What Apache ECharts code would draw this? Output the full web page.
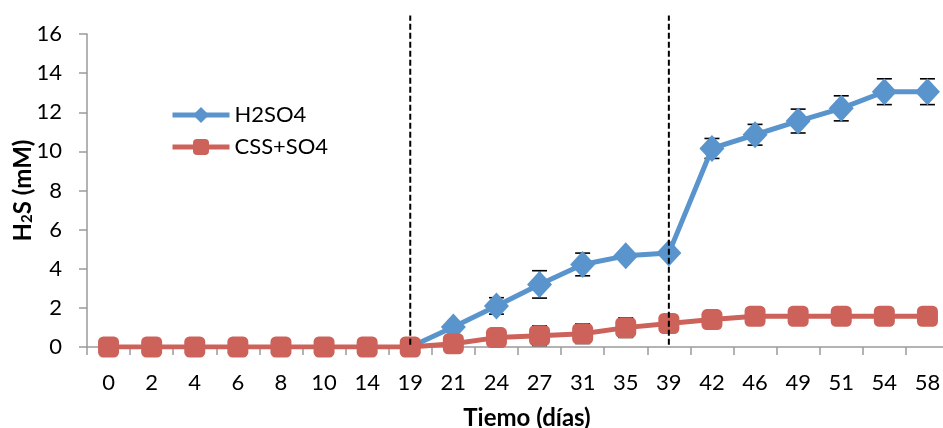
<!DOCTYPE html>
<html>
<head>
<meta charset="utf-8">
<script src="https://cdn.jsdelivr.net/npm/echarts@6/dist/echarts.min.js"></script>
<style>
  html, body { margin: 0; padding: 0; background: #fff; }
  #chart { width: 943px; height: 428px; }
</style>
</head>
<body>
<div id="chart"></div>
<script>
// Sampling days (category axis)
const days = ['0', '2', '4', '6', '8', '10', '14', '19', '21', '24', '27', '31', '35', '39', '42', '46', '49', '51', '54', '58'];

// H2S concentration (mM); '-' = not measured
const h2so4 = ['-', '-', '-', '-', '-', '-', '-', 0, 1.02, 2.1, 3.2, 4.22, 4.66, 4.8, 10.15, 10.85, 11.55, 12.2, 13.05, 13.05];
const cssSo4 = [0, 0, 0, 0, 0, 0, 0, 0, 0.17, 0.48, 0.58, 0.68, 0.99, 1.2, 1.4, 1.57, 1.57, 1.57, 1.57, 1.57];

// Standard deviations (mM)
const h2so4Err = [0, 0, 0, 0, 0, 0, 0, 0, 0, 0.42, 0.7, 0.58, 0.2, 0.2, 0.51, 0.53, 0.61, 0.64, 0.66, 0.66];
const cssSo4Err = [0, 0, 0, 0, 0, 0, 0, 0, 0.1, 0.2, 0.5, 0.5, 0.5, 0.3, 0.2, 0.2, 0.2, 0.2, 0.2, 0.2];

// Phase boundaries (days) and the vertical span of the divider lines (mM)
const phaseDays = ['19', '39'];
const phaseSpan = [0.12, 16.95];

const yTicks = { min: 0, max: 16, interval: 2 };

const BLUE = '#5A94CD';
const RED = '#CD625A';
const FONT = 'Lato, "Open Sans", sans-serif';

function errData(values, errs) {
  const out = [];
  values.forEach((v, i) => {
    if (v === '-' || !errs[i]) return;
    out.push([i, v - errs[i], v + errs[i]]);
  });
  return out;
}

function renderErr(params, api) {
  const lo = api.coord([api.value(0), api.value(1)]);
  const hi = api.coord([api.value(0), api.value(2)]);
  const cap = 7.5;
  const style = { stroke: '#000', lineWidth: 1.6 };
  return {
    type: 'group',
    children: [
      { type: 'line', shape: { x1: lo[0], y1: lo[1], x2: hi[0], y2: hi[1] }, style },
      { type: 'line', shape: { x1: lo[0] - cap, y1: lo[1], x2: lo[0] + cap, y2: lo[1] }, style },
      { type: 'line', shape: { x1: hi[0] - cap, y1: hi[1], x2: hi[0] + cap, y2: hi[1] }, style }
    ]
  };
}

// Dashed vertical dividers between experimental phases
function renderPhase(params, api) {
  const a = api.coord([api.value(0), api.value(1)]);
  const b = api.coord([api.value(0), api.value(2)]);
  return {
    type: 'line',
    shape: { x1: a[0], y1: a[1], x2: b[0], y2: b[1] },
    style: { stroke: '#000', lineWidth: 2, lineDash: [6, 3] }
  };
}

const blueData = h2so4.map((v, i) => (i === 7 ? { value: v, symbol: 'none' } : v));

const chart = echarts.init(document.getElementById('chart'));
chart.setOption({
  animation: false,
  backgroundColor: '#fff',
  textStyle: { fontFamily: FONT },
  grid: { left: 87, top: 34, width: 862, height: 313, containLabel: false, outerBoundsMode: 'none' },
  legend: {
    orient: 'vertical',
    left: 165,
    top: 99,
    itemWidth: 57,
    itemHeight: 20,
    itemGap: 10,
    lineStyle: { width: 5 },
    textStyle: { fontSize: 22, color: '#000', fontFamily: FONT },
    data: ['H2SO4', 'CSS+SO4']
  },
  xAxis: {
    type: 'category',
    data: days,
    name: 'Tiemo (días)',
    nameLocation: 'middle',
    nameGap: 59,
    nameMoveOverlap: false,
    nameTextStyle: { fontSize: 24, fontWeight: 'bold', color: '#000', fontFamily: FONT, padding: [0, 0, 0, 18] },
    axisLine: { lineStyle: { color: '#9A9A9A', width: 1.5 } },
    axisTick: { show: true, length: 8, lineStyle: { color: '#9A9A9A', width: 1.5 } },
    axisLabel: { fontSize: 22, color: '#000', margin: 25, interval: 0, fontFamily: FONT },
    splitLine: { show: false }
  },
  yAxis: {
    type: 'value',
    min: yTicks.min,
    max: yTicks.max,
    interval: yTicks.interval,
    name: '{b|H}{s|2}{b|S (mM)}',
    nameLocation: 'middle',
    nameGap: 52,
    nameRotate: 90,
    nameMoveOverlap: false,
    nameTextStyle: {
      rich: {
        b: { fontSize: 24, fontWeight: 'bold', color: '#000', fontFamily: FONT, verticalAlign: 'top', lineHeight: 24, padding: [0, 0, 8, 0] },
        s: { fontSize: 15, fontWeight: 'bold', color: '#000', fontFamily: FONT, verticalAlign: 'bottom', lineHeight: 15 }
      }
    },
    axisLine: { show: true, lineStyle: { color: '#9A9A9A', width: 1.5 } },
    axisTick: { show: true, length: 8, lineStyle: { color: '#9A9A9A', width: 1.5 } },
    axisLabel: { fontSize: 22, color: '#000', margin: 25, fontFamily: FONT },
    splitLine: { show: false }
  },
  series: [
    {
      type: 'custom',
      name: 'errH2SO4',
      renderItem: renderErr,
      data: errData(h2so4, h2so4Err),
      encode: { x: 0, y: [1, 2] },
      z: 1,
      silent: true
    },
    {
      type: 'custom',
      name: 'errCSS',
      renderItem: renderErr,
      data: errData(cssSo4, cssSo4Err),
      encode: { x: 0, y: [1, 2] },
      z: 1,
      silent: true
    },
    {
      name: 'H2SO4',
      type: 'line',
      data: blueData,
      symbol: 'diamond',
      symbolSize: [25, 27],
      lineStyle: { color: BLUE, width: 5 },
      itemStyle: { color: BLUE },
      z: 2
    },
    {
      name: 'CSS+SO4',
      type: 'line',
      data: cssSo4,
      symbol: 'roundRect',
      symbolSize: 21,
      lineStyle: { color: RED, width: 5 },
      itemStyle: { color: RED },
      z: 3
    },
    {
      type: 'custom',
      name: 'phases',
      renderItem: renderPhase,
      data: phaseDays.map(d => [days.indexOf(d), phaseSpan[0], phaseSpan[1]]),
      encode: { x: 0, y: [1, 2] },
      clip: false,
      z: 10,
      silent: true
    }
  ]
});
</script>
</body>
</html>
